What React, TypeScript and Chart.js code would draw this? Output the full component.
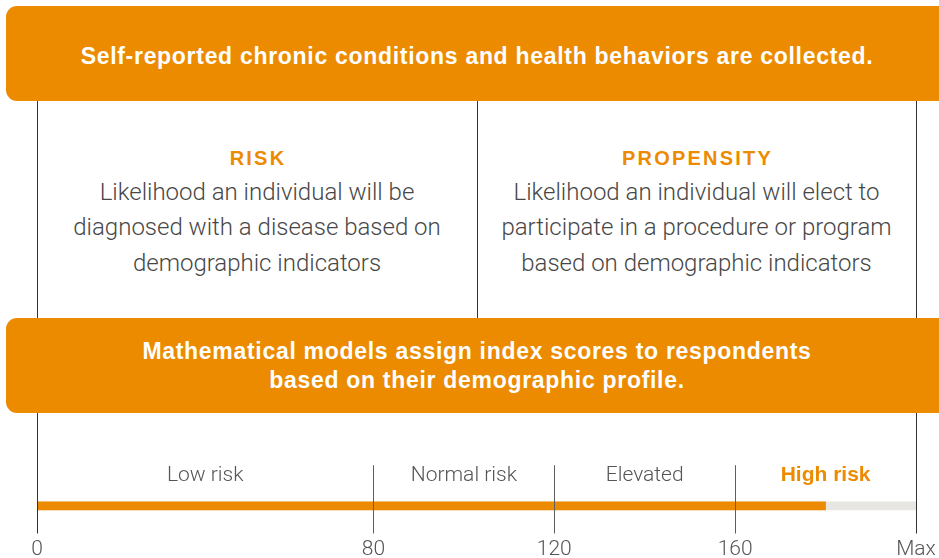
import React, { useEffect, useRef } from 'react';
import { Chart, registerables, LinearScale } from 'chart.js';

Chart.register(...registerables);

// ---- data ----
const categories = ['Index score'];
const scoreValues = [180];
const maxValues = [200];
const boundaries = [0, 80, 120, 160, 200];
const boundaryLabels = ['0', '80', '120', '160', 'Max'];
const bandWeights = [1.86, 1, 1, 1];
const segmentLabels = ['Low risk', 'Normal risk', 'Elevated', 'High risk'];
const segmentMidpoints = [40, 100, 140, 180];
const highlightSegment = 3;

const topBanner = 'Self-reported chronic conditions and health behaviors are collected.';
const middleBannerLines = [
  'Mathematical models assign index scores to respondents',
  'based on their demographic profile.',
];
const columnTitles = ['RISK', 'PROPENSITY'];
const columnLines = [
  ['Likelihood an individual will be', 'diagnosed with a disease based on', 'demographic indicators'],
  ['Likelihood an individual will elect to', 'participate in a procedure or program', 'based on demographic indicators'],
];

const ORANGE = '#EC8B00';
const TRACK = '#E8E6E2';
const LINE = '#333333';
const LIGHT = 'Roboto, "Helvetica Neue", Arial, sans-serif';
const BOLD = '"Liberation Sans", Arial, Helvetica, sans-serif';

// ---- piecewise scale ----
const totalW = bandWeights.reduce((a, b) => a + b, 0);
const cumFrac: number[] = [0];
bandWeights.forEach((w, i) => cumFrac.push(cumFrac[i] + w / totalW));

function toFrac(v: number): number {
  const n = boundaries.length;
  for (let i = 0; i < n - 1; i++) {
    if (v <= boundaries[i + 1] || i === n - 2) {
      const t = (v - boundaries[i]) / (boundaries[i + 1] - boundaries[i]);
      return cumFrac[i] + t * (cumFrac[i + 1] - cumFrac[i]);
    }
  }
  return 0;
}
function fromFrac(f: number): number {
  const n = boundaries.length;
  for (let i = 0; i < n - 1; i++) {
    if (f <= cumFrac[i + 1] || i === n - 2) {
      const t = (f - cumFrac[i]) / (cumFrac[i + 1] - cumFrac[i]);
      return boundaries[i] + t * (boundaries[i + 1] - boundaries[i]);
    }
  }
  return 0;
}

class PiecewiseScale extends LinearScale {
  static id = 'piecewise';
  static defaults = (LinearScale as any).defaults;
  getPixelForValue(value: number) {
    return (this as any).getPixelForDecimal(toFrac(value));
  }
  getValueForPixel(pixel: number) {
    return fromFrac((this as any).getDecimalForPixel(pixel));
  }
}
Chart.register(PiecewiseScale as any);

const dividerPlugin = {
  id: 'dividers',
  afterDatasetsDraw(chart: any) {
    const { ctx, chartArea, scales } = chart;
    const xs = scales.x;
    ctx.save();
    ctx.lineWidth = 1;
    boundaries.forEach((v, i) => {
      const px = Math.round(xs.getPixelForValue(v)) + 0.5;
      const edge = i === 0 || i === boundaries.length - 1;
      ctx.strokeStyle = edge ? LINE : '#5f5f5f';
      ctx.beginPath();
      ctx.moveTo(px, edge ? 2 : chartArea.top - 34);
      ctx.lineTo(px, chartArea.bottom + 21);
      ctx.stroke();
    });
    ctx.restore();
  },
};

function ScaleChart() {
  const ref = useRef<HTMLCanvasElement | null>(null);
  useEffect(() => {
    if (!ref.current) return;
    const chart = new Chart(ref.current, {
      type: 'bar',
      data: {
        labels: categories,
        datasets: [
          {
            label: 'Score',
            data: scoreValues,
            backgroundColor: ORANGE,
            barThickness: 8,
            order: 0,
            grouped: false,
          } as any,
          {
            label: 'Max',
            data: maxValues,
            backgroundColor: TRACK,
            barThickness: 8,
            order: 1,
            grouped: false,
          } as any,
        ],
      },
      options: {
        indexAxis: 'y',
        animation: false,
        responsive: false,
        maintainAspectRatio: false,
        layout: { padding: { left: 37, right: 23, top: 41, bottom: 3 } },
        plugins: { legend: { display: false }, tooltip: { enabled: false } },
        scales: {
          y: { display: false },
          x: {
            type: 'piecewise' as any,
            position: 'bottom',
            min: 0,
            max: 200,
            grid: { display: false, drawTicks: false },
            border: { display: false },
            afterBuildTicks: (scale: any) => {
              scale.ticks = boundaries.map((v) => ({ value: v }));
            },
            afterFit: (scale: any) => {
              scale.paddingLeft = 0;
              scale.paddingRight = 0;
            },
            ticks: {
              autoSkip: false,
              maxRotation: 0,
              padding: 25,
              color: '#555555',
              font: { family: LIGHT, size: 21, weight: 300 as any },
              callback: (value: any) => {
                const i = boundaries.indexOf(Number(value));
                return i >= 0 ? boundaryLabels[i] : '';
              },
            },
          },
          x2: {
            type: 'piecewise' as any,
            position: 'top',
            min: 0,
            max: 200,
            grid: { display: false, drawTicks: false },
            border: { display: false },
            afterBuildTicks: (scale: any) => {
              scale.ticks = segmentMidpoints.map((v) => ({ value: v }));
            },
            afterFit: (scale: any) => {
              scale.paddingLeft = 0;
              scale.paddingRight = 0;
            },
            ticks: {
              autoSkip: false,
              maxRotation: 0,
              padding: 11,
              color: (ctx: any) => (ctx.index === highlightSegment ? ORANGE : '#555555'),
              font: (ctx: any) =>
                ctx.index === highlightSegment
                  ? { family: BOLD, size: 21, weight: 'bold' }
                  : { family: LIGHT, size: 21, weight: 300 },
              callback: (value: any) => {
                const i = segmentMidpoints.indexOf(Number(value));
                return i >= 0 ? segmentLabels[i] : '';
              },
            },
          } as any,
        },
      },
      plugins: [dividerPlugin],
    } as any);
    return () => chart.destroy();
  }, []);
  return (
    <canvas
      ref={ref}
      width={939}
      height={165}
      style={{ position: 'absolute', left: 0, top: 411, width: 939, height: 165 }}
    />
  );
}

const vline = (x: number, top: number, bottom: number) => (
  <div
    key={`${x}-${top}`}
    style={{ position: 'absolute', left: x, top, width: 1, height: bottom - top, background: LINE }}
  />
);

export default function App() {
  const bannerStyle: React.CSSProperties = {
    position: 'absolute',
    left: 6,
    width: 960,
    height: 95,
    background: ORANGE,
    borderRadius: '11px 0 0 11px',
  };
  const bannerText: React.CSSProperties = {
    position: 'absolute',
    left: 0,
    width: 954,
    height: 95,
    display: 'flex',
    flexDirection: 'column',
    alignItems: 'center',
    justifyContent: 'center',
    color: '#ffffff',
    fontFamily: BOLD,
    fontWeight: 700,
    fontSize: 23,
    letterSpacing: 0.7,
    whiteSpace: 'nowrap',
  };
  return (
    <div
      style={{
        position: 'absolute',
        left: 0,
        top: 0,
        width: 939,
        height: 558,
        overflow: 'hidden',
        background: '#ffffff',
        fontFamily: LIGHT,
      }}
    >
      <div style={{ ...bannerStyle, top: 6 }} />
      <div style={{ ...bannerText, top: 8.5 }}>{topBanner}</div>

      {vline(37, 101, 318)}
      {vline(477, 101, 318)}
      {vline(916, 101, 318)}

      {[0, 1].map((c) => (
        <React.Fragment key={c}>
          <div
            style={{
              position: 'absolute',
              left: c === 0 ? 38 : 478,
              width: c === 0 ? 440 : 439,
              top: 146,
              textAlign: 'center',
              whiteSpace: 'nowrap',
              color: ORANGE,
              fontFamily: BOLD,
              fontWeight: 700,
              fontSize: 20,
              lineHeight: '24px',
              letterSpacing: 2.2,
            }}
          >
            {columnTitles[c]}
          </div>
          <div
            style={{
              position: 'absolute',
              left: c === 0 ? 37 : 477,
              width: c === 0 ? 440 : 439,
              top: 174.5,
              textAlign: 'center',
              whiteSpace: 'nowrap',
              color: '#474747',
              fontWeight: 300,
              fontSize: 24,
              lineHeight: '35.5px',
            }}
          >
            {columnLines[c].map((l, i) => (
              <div key={i}>{l}</div>
            ))}
          </div>
        </React.Fragment>
      ))}

      <div style={{ ...bannerStyle, top: 318 }} />
      <div style={{ ...bannerText, top: 318.5, lineHeight: '29px' }}>
        {middleBannerLines.map((l, i) => (
          <div key={i}>{l}</div>
        ))}
      </div>

      <ScaleChart />
    </div>
  );
}
